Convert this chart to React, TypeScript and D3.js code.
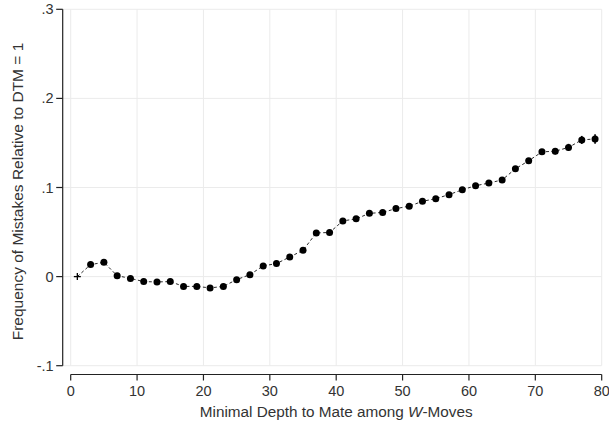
import React from "react";
import * as d3 from "d3";

const dtm = [1, 3, 5, 7, 9, 11, 13, 15, 17, 19, 21, 23, 25, 27, 29, 31, 33, 35, 37, 39, 41, 43, 45, 47, 49, 51, 53, 55, 57, 59, 61, 63, 65, 67, 69, 71, 73, 75, 77, 79];
const freq = [0, 0.0135, 0.016, 0.001, -0.002, -0.0056, -0.006, -0.0056, -0.011, -0.011, -0.0127, -0.011, -0.0034, 0.0022, 0.012, 0.0146, 0.022, 0.0295, 0.049, 0.0495, 0.0625, 0.0648, 0.071, 0.072, 0.0763, 0.079, 0.0845, 0.0875, 0.092, 0.0975, 0.102, 0.105, 0.1085, 0.121, 0.13, 0.14, 0.1407, 0.145, 0.1534, 0.1545];
const ciHalf = [0, 0.001, 0.001, 0.001, 0.001, 0.001, 0.001, 0.001, 0.001, 0.001, 0.001, 0.001, 0.0012, 0.0012, 0.0012, 0.0013, 0.0013, 0.0014, 0.0014, 0.0015, 0.0015, 0.0016, 0.0016, 0.0017, 0.0018, 0.0018, 0.0019, 0.002, 0.002, 0.0021, 0.0022, 0.0023, 0.0025, 0.0027, 0.003, 0.0033, 0.0035, 0.004, 0.0045, 0.0053];
const xTicks = [0, 10, 20, 30, 40, 50, 60, 70, 80];
const yTicks = [-0.1, 0, 0.1, 0.2, 0.3];
const yTickLabels = ["-.1", "0", ".1", ".2", ".3"];
const xTitle = "Minimal Depth to Mate among ";
const yTitle = "Frequency of Mistakes Relative to DTM = 1";

export default function App() {
  const W = 609, H = 427;
  const x = d3.scaleLinear().domain([0, 80]).range([70.7, 601.7]);
  const y = d3.scaleLinear().domain([-0.1, 0.3]).range([365.7, 9.3]);
  const axisX = 62.7;
  const axisY = 374.5;
  const font = "'Liberation Sans', Arial, Helvetica, sans-serif";
  const pts = dtm.map((d, i) => ({ d, v: freq[i], c: ciHalf[i] }));
  const line = d3.line<{ d: number; v: number }>().x((p) => x(p.d)).y((p) => y(p.v));
  const grid = "#ebebeb";
  const txt = "#333";
  return (
    <div style={{ position: "absolute", left: 0, top: 0 }}>
      <svg width={W} height={H} style={{ display: "block", background: "#fff" }}>
        {yTicks.map((t) => (
          <line key={"gy" + t} x1={axisX} x2={x(80)} y1={y(t)} y2={y(t)} stroke={grid} strokeWidth={1} />
        ))}
        {xTicks.map((t) => (
          <line key={"gx" + t} x1={x(t)} x2={x(t)} y1={y(0.3)} y2={y(-0.1)} stroke={grid} strokeWidth={1} />
        ))}
        <line x1={axisX} x2={axisX} y1={y(0.3)} y2={y(-0.1)} stroke="#222" strokeWidth={1.2} />
        {yTicks.map((t, i) => (
          <g key={"yt" + t}>
            <line x1={axisX - 6.5} x2={axisX} y1={y(t)} y2={y(t)} stroke="#222" strokeWidth={1.2} />
            <text x={axisX - 9} y={y(t)} dy="0.35em" textAnchor="end" fontFamily={font} fontSize={14.5} fill={txt}>
              {yTickLabels[i]}
            </text>
          </g>
        ))}
        <line x1={x(0)} x2={x(80)} y1={axisY} y2={axisY} stroke="#222" strokeWidth={1.2} />
        {xTicks.map((t) => (
          <g key={"xt" + t}>
            <line x1={x(t)} x2={x(t)} y1={axisY} y2={axisY + 6} stroke="#222" strokeWidth={1.2} />
            <text x={x(t)} y={axisY + 21.5} textAnchor="middle" fontFamily={font} fontSize={14.5} fill={txt}>
              {t}
            </text>
          </g>
        ))}
        <text x={(x(0) + x(80)) / 2} y={417} textAnchor="middle" fontFamily={font} fontSize={15.3} fill={txt}>
          {xTitle}
          <tspan fontStyle="italic">W</tspan>-Moves
        </text>
        <text
          transform={`translate(23,${(y(0.3) + y(-0.1)) / 2 + 4}) rotate(-90)`}
          textAnchor="middle"
          fontFamily={font}
          fontSize={15.5}
          fill={txt}
        >
          {yTitle}
        </text>
        <path d={line(pts) || ""} fill="none" stroke="#111" strokeWidth={0.9} strokeDasharray="3,2.5" />
        {pts.slice(1).map((p) => (
          <line key={"e" + p.d} x1={x(p.d)} x2={x(p.d)} y1={y(p.v - p.c)} y2={y(p.v + p.c)} stroke="#000" strokeWidth={1.6} />
        ))}
        {pts.slice(1).map((p) => (
          <circle key={"m" + p.d} cx={x(p.d)} cy={y(p.v)} r={3.5} fill="#000" />
        ))}
        <g>
          <line x1={x(pts[0].d) - 3.5} x2={x(pts[0].d) + 3.5} y1={y(pts[0].v)} y2={y(pts[0].v)} stroke="#000" strokeWidth={1.3} />
          <line x1={x(pts[0].d)} x2={x(pts[0].d)} y1={y(pts[0].v) - 3.5} y2={y(pts[0].v) + 3.5} stroke="#000" strokeWidth={1.3} />
        </g>
      </svg>
    </div>
  );
}
